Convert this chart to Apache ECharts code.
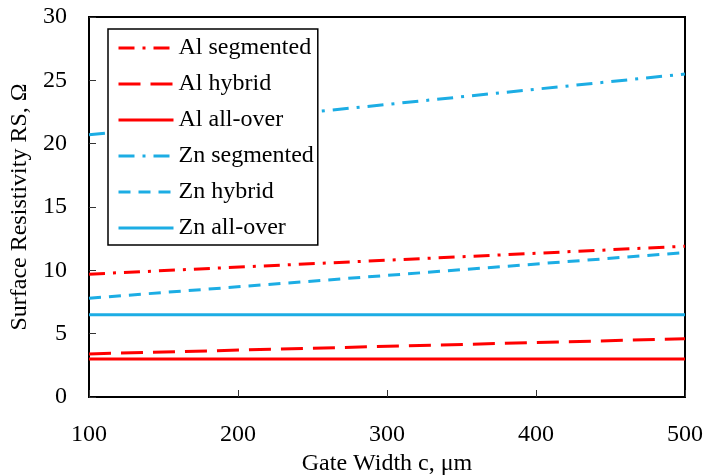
<!DOCTYPE html>
<html>
<head>
<meta charset="utf-8">
<script src="https://cdn.jsdelivr.net/npm/echarts@6/dist/echarts.min.js"></script>
<style>
  html, body { margin: 0; padding: 0; background: #fff; }
  #chart { width: 706px; height: 475px; }
</style>
</head>
<body>
<div id="chart"></div>
<script>
  // gate width (um) and surface resistivity
  var gateWidth = [100, 500]
  var alSegmented = [9.7, 11.9]
  var alHybrid = [3.4, 4.6]
  var alAllOver = [3.0, 3.0]
  var znSegmented = [20.7, 25.5]
  var znHybrid = [7.8, 11.4]
  var znAllOver = [6.5, 6.5]

  var red = '#ff0000'
  var blue = '#1cade4'
  var font = 'Liberation Serif'

  function pairs (ys) {
    return gateWidth.map(function (x, i) { return [x, ys[i]] })
  }

  function line (name, ys, color, type) {
    return {
      name: name,
      type: 'line',
      data: pairs(ys),
      symbol: 'none',
      animation: false,
      lineStyle: { color: color, width: 3, type: type },
      itemStyle: { color: color }
    }
  }

  var chart = echarts.init(document.getElementById('chart'))
  chart.setOption({
    backgroundColor: '#fff',
    textStyle: { fontFamily: font },
    grid: {
      left: 89, right: 21, top: 17, bottom: 78,
      outerBoundsMode: 'none',
      show: true, borderColor: '#000', borderWidth: 2
    },
    legend: {
      orient: 'vertical',
      left: 108, top: 29,
      padding: [5, 4, 3, 9],
      backgroundColor: '#fff',
      borderColor: '#000',
      borderWidth: 1.5,
      borderRadius: 0,
      itemWidth: 55,
      itemHeight: 14,
      itemGap: 8,
      itemStyle: { opacity: 0 },
      lineStyle: { width: 3 },
      textStyle: { fontFamily: font, fontSize: 24, color: '#000', lineHeight: 28 },
      data: ['Al segmented', 'Al hybrid', 'Al all-over', 'Zn segmented', 'Zn hybrid', 'Zn all-over']
    },
    xAxis: {
      type: 'value',
      min: 100, max: 500, interval: 100,
      name: 'Gate Width c, μm',
      nameLocation: 'middle',
      nameGap: 48,
      nameTextStyle: { fontFamily: font, fontSize: 24, color: '#000' },
      axisLine: { show: true, lineStyle: { color: '#000', width: 2 } },
      axisTick: { show: true, inside: true, length: 7, lineStyle: { color: '#333', width: 1 } },
      axisLabel: { fontFamily: font, fontSize: 24, color: '#000', margin: 26 },
      splitLine: { show: false }
    },
    yAxis: {
      type: 'value',
      min: 0, max: 30, interval: 5,
      name: 'Surface Resistivity RS, Ω',
      nameLocation: 'middle',
      nameGap: 53,
      nameTextStyle: { fontFamily: font, fontSize: 24, color: '#000' },
      axisLine: { show: true, lineStyle: { color: '#000', width: 2 } },
      axisTick: { show: true, inside: true, length: 7, lineStyle: { color: '#333', width: 1 } },
      axisLabel: { fontFamily: font, fontSize: 24, color: '#000', margin: 22 },
      splitLine: { show: false }
    },
    series: [
      line('Al segmented', alSegmented, red, [16, 8, 3, 8]),
      line('Al hybrid', alHybrid, red, [22, 10]),
      line('Al all-over', alAllOver, red, 'solid'),
      line('Zn segmented', znSegmented, blue, [16, 8, 3, 8]),
      line('Zn hybrid', znHybrid, blue, [12, 8]),
      line('Zn all-over', znAllOver, blue, 'solid')
    ]
  })
</script>
</body>
</html>
